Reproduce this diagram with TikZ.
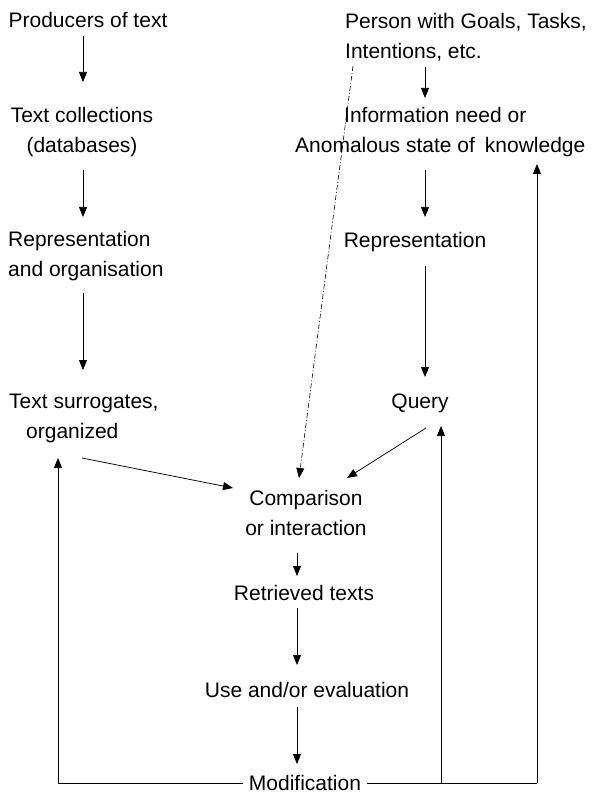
\documentclass[tikz,border=0pt]{standalone}
\usepackage{fontspec}
\setmainfont{Liberation Sans}
\usetikzlibrary{arrows.meta}
\begin{document}
\begin{tikzpicture}[x=1pt,y=-1pt,
  lbl/.style={inner sep=0pt, font=\fontsize{21}{30}\selectfont},
  arr/.style={line width=0.75pt, -{Triangle[length=10pt,width=8pt]}},
  ln/.style={line width=0.75pt},
  dashdot/.style={line width=0.6pt, dash pattern=on 5pt off 2pt on 1pt off 2pt, -{Triangle[length=10pt,width=8pt]}}]
\useasboundingbox (0,0) rectangle (592,794);
\fill[white] (0,0) rectangle (592,794);

% left column
\node[lbl] (prod) at (88,20) {Producers of text};
\node[lbl, align=center] (coll) at (82,132) {Text collections\\(databases)};
\node[lbl, align=left, anchor=west] (repL) at (8,256) {Representation\\and organisation};
\node[lbl, align=left, anchor=west] (surr) at (9,418) {Text surrogates,\\\hspace*{17pt}organized};

% right column
\node[lbl, align=left, anchor=west] (person) at (345,37) {Person with Goals, Tasks,\\Intentions, etc.};
\node[lbl, align=left, anchor=west] (info) at (295,132) {\hspace*{49pt}Information need or\\Anomalous state of\hspace{10pt}knowledge};
\node[lbl] (repR) at (415,242) {Representation};
\node[lbl] (query) at (420,403) {Query};

% centre column
\node[lbl, align=center] (comp) at (306,513) {Comparison\\or interaction};
\node[lbl] (retr) at (304,593) {Retrieved texts};
\node[lbl] (use) at (307,690) {Use and/or evaluation};
\node[lbl] (mod) at (305,783) {Modification};

% left arrows
\draw[arr] ([shift={(-5,16)}]prod.center) -- ([shift={(1,-50)}]coll.center);
\draw[arr] ([shift={(1,38)}]coll.center) -- ([shift={(75,-39)}]repL.west);
\draw[arr] ([shift={(75,37)}]repL.west) -- ([shift={(74,-48)}]surr.west);

% right arrows
\draw[arr] ([shift={(80,30)}]person.west) -- ([shift={(130,-34)}]info.west);
\draw[arr] ([shift={(130,38)}]info.west) -- ([shift={(10,-25)}]repR.center);
\draw[arr] ([shift={(10,24)}]repR.center) -- ([shift={(5,-26)}]query.center);

% into comparison
\draw[arr] ([shift={(6,25)}]query.center) -- ([shift={(41,-35)}]comp.center);
\draw[arr] ([shift={(73,40)}]surr.west) -- ([shift={(-73,-25)}]comp.center);
\draw[dashdot] ([shift={(8,29)}]person.west) -- ([shift={(-7,-35)}]comp.center);

% centre arrows
\draw[arr] ([shift={(-9,40)}]comp.center) -- ([shift={(-7,-17)}]retr.center);
\draw[arr] ([shift={(-7,15)}]retr.center) -- ([shift={(-10,-25)}]use.center);
\draw[arr] ([shift={(-10,17)}]use.center) -- ([shift={(-8,-19)}]mod.center);

% feedback loops
\coordinate (surrIn) at ([shift={(49,40)}]surr.west);
\coordinate (queryIn) at ([shift={(21,23)}]query.center);
\coordinate (infoIn) at ([shift={(242,32)}]info.west);
\draw[arr] ([xshift=-6pt]mod.west) -| (surrIn);
\draw[ln] ([xshift=6pt]mod.east) -- (infoIn |- mod.east);
\draw[arr] (infoIn |- mod.east) -- (infoIn);
\draw[arr] (queryIn |- mod.east) -- (queryIn);
\end{tikzpicture}
\end{document}
